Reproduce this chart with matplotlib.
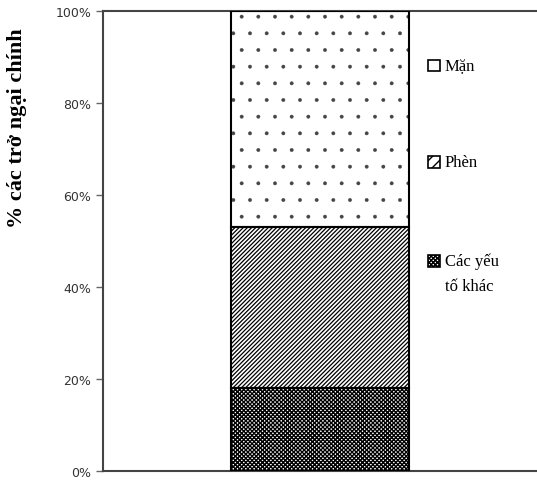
import matplotlib
matplotlib.use("Agg")
from matplotlib import pyplot as plt
from matplotlib.patches import Rectangle
import numpy as np

# stacked shares (%) of the main constraints, bottom to top
categories = ["Các yếu\ntố khác", "Phèn", "Mặn"]
values = [18, 35, 47]
hatches = ["xxxxxxxx", "////////", "."]
legend_hatches = ["xxxxxxxx", "///", ""]
hatch_colors = ["black", "black", "#444444"]
hatch_lw = [1.0, 0.9, 0.3]
ticks = [0, 20, 40, 60, 80, 100]
tick_labels = ["0%", "20%", "40%", "60%", "80%", "100%"]

# legend rows (axes fraction) - hand placed like the original
legend_y = [0.4565, 0.672, 0.8815]

fig = plt.figure(figsize=(5.37, 4.81), dpi=100)
ax = fig.add_axes([103 / 537, 9 / 481, 434 / 537, 460 / 481])

bottoms = np.concatenate([[0], np.cumsum(values)[:-1]])
for val, b, h, hc, lw in zip(values, bottoms, hatches, hatch_colors, hatch_lw):
    plt.rcParams['hatch.linewidth'] = lw
    ax.bar(0, val, width=0.408, bottom=b, color="white", edgecolor=hc,
           hatch=h, linewidth=0, zorder=2)
# outlines on top
ax.bar(0, values, width=0.408, bottom=bottoms, fill=False, edgecolor="black",
       linewidth=1.5, zorder=3)
plt.rcParams['hatch.linewidth'] = 1.0

# legend drawn by hand so the two-line label sits like the original
for name, lh, yy in zip(categories, legend_hatches, legend_y):
    sq_h = 0.026
    ax.add_patch(Rectangle((0.749, yy - sq_h / 2), 0.028, sq_h, transform=ax.transAxes,
                           facecolor="white", edgecolor="black", hatch=lh,
                           linewidth=1.2, clip_on=False))
    lines = name.split("\n")
    for i, line in enumerate(lines):
        ax.text(0.788, yy - i * 0.055, line, transform=ax.transAxes, va="center",
                ha="left", family="Liberation Serif", fontsize=12)

ax.set_xlim(-0.5, 0.5)
ax.set_ylim(0, 100)
ax.set_xticks([])
ax.set_yticks(ticks)
ax.set_yticklabels(tick_labels, fontsize=9, family="DejaVu Sans", color="#333333")
ax.tick_params(axis="y", direction="out", length=5, color="#666666", width=1)

for s in ["left", "bottom", "top"]:
    ax.spines[s].set_color("#444444")
    ax.spines[s].set_linewidth(1.5)
ax.spines["right"].set_visible(False)

ax.set_ylabel("% các trở ngại chính", family="Liberation Serif", fontsize=16,
              fontweight="bold")
ax.yaxis.set_label_coords(-0.175, 0.748)

fig.savefig("out.png", dpi=100)
